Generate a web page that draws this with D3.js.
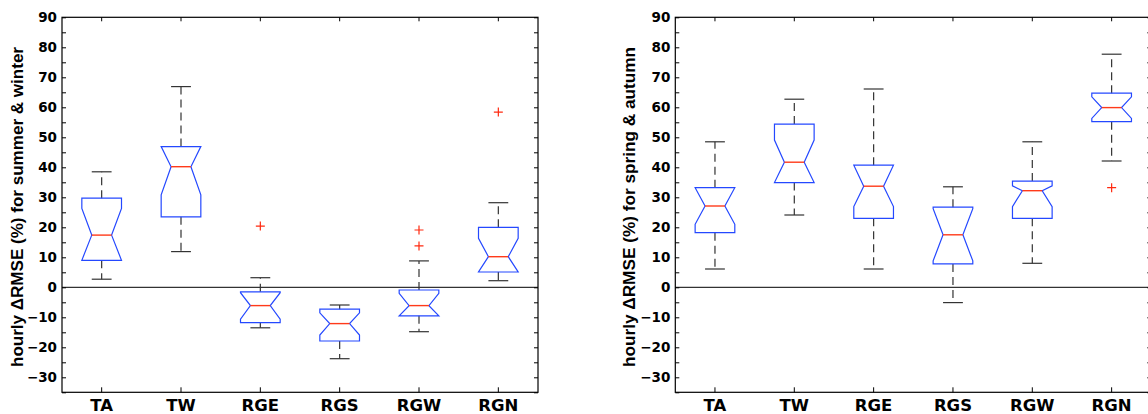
<!DOCTYPE html>
<html>
<head>
<meta charset="utf-8">
<script src="https://cdn.jsdelivr.net/npm/d3@7"></script>
<style>
  html, body { margin: 0; padding: 0; background: #fff; }
  svg { display: block; }
</style>
</head>
<body>
<svg id="chart" width="1148" height="414"></svg>
<script>
// ---------- data ----------
const categories = ["TA", "TW", "RGE", "RGS", "RGW", "RGN"];
const yTickValues = [-30, -20, -10, 0, 10, 20, 30, 40, 50, 60, 70, 80, 90];
const yMinorTickValues = [-35, -25, -15, -5, 5, 15, 25, 35, 45, 55, 65, 75, 85];

// summer & winter
const swWhiskerLow  = [2.7, 11.9, -13.5, -23.8, -14.8, 2.2];
const swQ1          = [9.0, 23.5, -11.8, -17.9, -9.5, 5.1];
const swMedian      = [17.4, 40.2, -6.1, -12.1, -6.1, 10.2];
const swQ3          = [29.7, 46.9, -1.5, -7.3, -0.9, 20.0];
const swWhiskerHigh = [38.5, 66.9, 3.2, -5.9, 8.8, 28.2];
const swNotchLow    = [8.5, 30.8, -10.6, -15.9, -9.8, 4.0];
const swNotchHigh   = [26.3, 49.6, -1.8, -8.5, -2.0, 16.3];
const swOutliers    = [[], [], [20.4], [], [19.1, 13.8], [58.4]];

// spring & autumn
const saWhiskerLow  = [6.1, 24.1, 6.1, -5.1, 8.0, 42.1];
const saQ1          = [18.2, 34.9, 23.0, 7.8, 23.0, 55.2];
const saMedian      = [27.1, 41.7, 33.7, 17.5, 32.2, 59.9];
const saQ3          = [33.2, 54.4, 40.7, 26.7, 35.4, 64.7];
const saWhiskerHigh = [48.5, 62.7, 66.1, 33.5, 48.5, 77.7];
const saNotchLow    = [21.0, 34.3, 26.9, 8.8, 26.9, 56.3];
const saNotchHigh   = [33.5, 49.1, 41.0, 26.2, 33.8, 63.5];
const saOutliers    = [[], [], [], [], [], [33.2]];

const panels = [
  { label: "hourly \u0394RMSE (%) for summer & winter", left: 62, labelX: 23,
    lo: swWhiskerLow, q1: swQ1, med: swMedian, q3: swQ3, hi: swWhiskerHigh,
    nlo: swNotchLow, nhi: swNotchHigh, out: swOutliers },
  { label: "hourly \u0394RMSE (%) for spring & autumn", left: 675.3, labelX: 635,
    lo: saWhiskerLow, q1: saQ1, med: saMedian, q3: saQ3, hi: saWhiskerHigh,
    nlo: saNotchLow, nhi: saNotchHigh, out: saOutliers }
];

// ---------- layout ----------
const plotW = 476, plotTop = 17.3, plotH = 375;
const BOX = "#2448ff", MED = "#ff3a1a", WHISK = "#333333", OUT = "#ff2a10";
const TICK_FONT = "'DejaVu Sans', Verdana, sans-serif";
const LABEL_FONT = "'Liberation Sans', Arial, sans-serif";

const svg = d3.select("#chart");
const y = d3.scaleLinear().domain([-35, 90]).range([plotTop + plotH, plotTop]);

panels.forEach(p => {
  const g = svg.append("g").attr("transform", `translate(${p.left},0)`);
  const x = d3.scaleBand().domain(categories).range([0, plotW]).paddingInner(0).paddingOuter(0);
  const cx = c => x(c) + x.bandwidth() / 2;
  const w = x.bandwidth() * 0.25;   // half box width
  const nw = w / 2;                 // half notch width

  // zero line
  g.append("line")
    .attr("x1", 0).attr("x2", plotW)
    .attr("y1", y(0)).attr("y2", y(0))
    .attr("stroke", "#000").attr("stroke-width", 1);

  // axes
  const allTicks = yTickValues.concat(yMinorTickValues);
  const yAxisL = d3.axisLeft(y).tickValues(allTicks).tickSizeInner(-4).tickSizeOuter(0).tickPadding(5)
    .tickFormat(d => yTickValues.includes(d) ? d3.format("d")(d) : "");
  const yAxisR = d3.axisRight(y).tickValues(allTicks).tickSizeInner(-4).tickSizeOuter(0).tickFormat("");
  const xAxisB = d3.axisBottom(x).tickSizeInner(-5).tickSizeOuter(0).tickPadding(0);
  const xAxisT = d3.axisTop(x).tickSizeInner(-4).tickSizeOuter(0).tickFormat("");

  const gl = g.append("g").call(yAxisL);
  g.append("g").attr("transform", `translate(${plotW},0)`).call(yAxisR);
  const gb = g.append("g").attr("transform", `translate(0,${plotTop + plotH})`).call(xAxisB);
  g.append("g").attr("transform", `translate(0,${plotTop})`).call(xAxisT);
  g.selectAll(".domain").remove();
  g.selectAll(".tick line").attr("stroke", "#000");
  gl.selectAll("text").attr("font-size", 13.5).attr("font-weight", "bold").attr("fill", "#000")
    .attr("font-family", TICK_FONT);
  gb.selectAll("text").attr("font-size", 16.5).attr("font-weight", "bold").attr("fill", "#000")
    .attr("font-family", TICK_FONT).attr("dy", null).attr("y", 411.3 - (plotTop + plotH));

  // frame
  g.append("rect").attr("x", 0).attr("y", plotTop).attr("width", plotW).attr("height", plotH)
    .attr("fill", "none").attr("stroke", "#000").attr("stroke-width", 1.2);

  // boxes
  categories.forEach((c, i) => {
    const X = cx(c);
    const q1 = p.q1[i], q3 = p.q3[i], m = p.med[i];
    const nh = Math.min(p.nhi[i], q3), nl = Math.max(p.nlo[i], q1);

    // whiskers (dashed)
    g.append("line").attr("x1", X).attr("x2", X).attr("y1", y(q3)).attr("y2", y(p.hi[i]))
      .attr("stroke", WHISK).attr("stroke-width", 1.2).attr("stroke-dasharray", "8,5");
    g.append("line").attr("x1", X).attr("x2", X).attr("y1", y(q1)).attr("y2", y(p.lo[i]))
      .attr("stroke", WHISK).attr("stroke-width", 1.2).attr("stroke-dasharray", "8,5");
    // caps
    [p.hi[i], p.lo[i]].forEach(v => {
      g.append("line").attr("x1", X - nw).attr("x2", X + nw).attr("y1", y(v)).attr("y2", y(v))
        .attr("stroke", WHISK).attr("stroke-width", 1.2);
    });

    // notched box
    const pts = [
      [X - w, y(q3)], [X + w, y(q3)], [X + w, y(nh)], [X + nw, y(m)], [X + w, y(nl)],
      [X + w, y(q1)], [X - w, y(q1)], [X - w, y(nl)], [X - nw, y(m)], [X - w, y(nh)]
    ];
    g.append("path").attr("d", d3.line()(pts) + "Z")
      .attr("fill", "none").attr("stroke", BOX).attr("stroke-width", 1.2);

    // median
    g.append("line").attr("x1", X - nw).attr("x2", X + nw).attr("y1", y(m)).attr("y2", y(m))
      .attr("stroke", MED).attr("stroke-width", 1.4);

    // outliers
    p.out[i].forEach(v => {
      const oy = y(v);
      g.append("path").attr("d", `M${X - 4.5},${oy}H${X + 4.5}M${X},${oy - 4.5}V${oy + 4.5}`)
        .attr("stroke", OUT).attr("stroke-width", 1.2).attr("fill", "none");
    });
  });

  // y label
  svg.append("text")
    .attr("transform", `translate(${p.labelX},207) rotate(-90)`)
    .attr("text-anchor", "middle")
    .attr("font-family", LABEL_FONT)
    .attr("font-size", 16).attr("font-weight", "bold").attr("fill", "#000")
    .attr("textLength", 320).attr("lengthAdjust", "spacingAndGlyphs")
    .text(p.label);
});
</script>
</body>
</html>
